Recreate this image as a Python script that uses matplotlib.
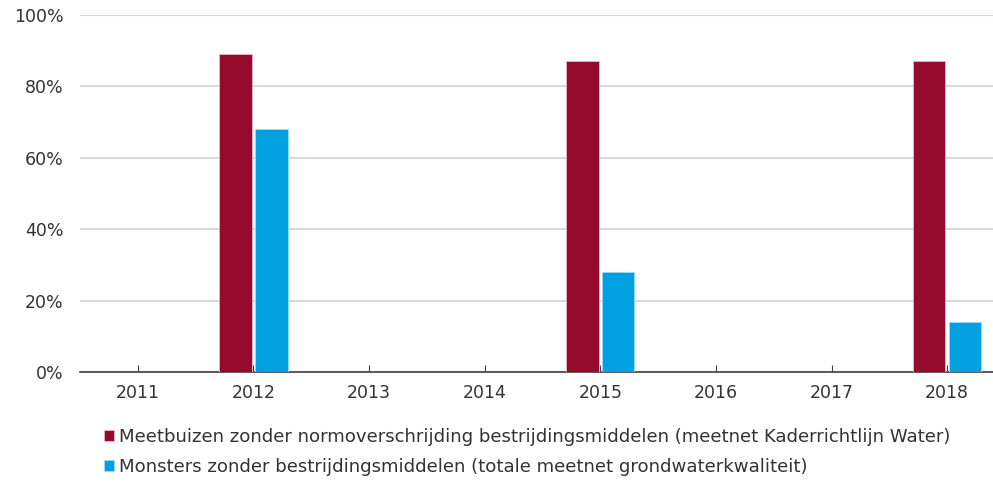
import numpy as np
import matplotlib.pyplot as plt
from matplotlib.ticker import PercentFormatter

years = ['2011', '2012', '2013', '2014', '2015', '2016', '2017', '2018']
meetbuizen = [np.nan, 89, np.nan, np.nan, 87, np.nan, np.nan, 87]
monsters = [np.nan, 68, np.nan, np.nan, 28, np.nan, np.nan, 14]

label_meetbuizen = 'Meetbuizen zonder normoverschrijding bestrijdingsmiddelen (meetnet Kaderrichtlijn Water)'
label_monsters = 'Monsters zonder bestrijdingsmiddelen (totale meetnet grondwaterkwaliteit)'

red = '#960A2C'
blue = '#00A0E1'

plt.rcParams['font.family'] = 'DejaVu Sans'
plt.rcParams['font.size'] = 12.5

fig = plt.figure(figsize=(9.93, 4.84), dpi=100)
ax = fig.add_axes([80 / 993, 112 / 484, 925 / 993, 357 / 484])

x = np.arange(len(years))
w = 0.28
ax.bar(x - 0.155, meetbuizen, w, color=red, edgecolor='#e8b8c4', linewidth=0.6,
       label=label_meetbuizen, zorder=3)
ax.bar(x + 0.155, monsters, w, color=blue, edgecolor='#9fdcf5', linewidth=0.6,
       label=label_monsters, zorder=3)

ax.set_xlim(-0.5, len(years) - 0.5)
ax.set_ylim(0, 100)
ax.set_yticks(range(0, 101, 20))
ax.yaxis.set_major_formatter(PercentFormatter(decimals=0))
ax.set_xticks(x)
ax.set_xticklabels(years)

ax.grid(axis='y', color='#d9d9d9', linewidth=1.5, zorder=0)
for side in ['left', 'right', 'top']:
    ax.spines[side].set_visible(False)
ax.spines['bottom'].set_color('#404040')
ax.spines['bottom'].set_linewidth(1.2)
ax.tick_params(axis='y', length=0, pad=12, labelcolor='#333333', labelsize=12.5)
ax.tick_params(axis='x', direction='in', length=5, color='#404040', pad=9,
               labelcolor='#333333', labelsize=12.5)

fig.legend(loc='upper left', bbox_to_anchor=(104 / 993, 1 - 428 / 484),
           frameon=False, handlelength=0.55, handleheight=0.55, handletextpad=0.3,
           labelspacing=0.68, borderaxespad=0, borderpad=0, fontsize=13.1,
           labelcolor='#333333')

fig.savefig('out.png', dpi=100)
